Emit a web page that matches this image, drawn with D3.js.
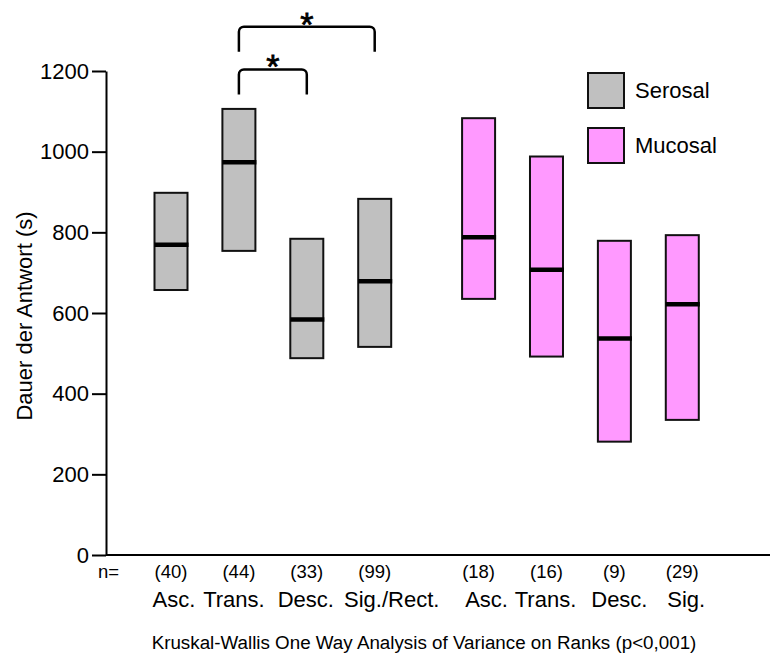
<!DOCTYPE html>
<html>
<head>
<meta charset="utf-8">
<script src="https://cdn.jsdelivr.net/npm/d3@7"></script>
<style>
  html, body { margin: 0; padding: 0; background: #fff; }
  svg { display: block; font-family: "Liberation Sans", Arial, Helvetica, sans-serif; }
</style>
</head>
<body>
<svg id="chart" width="770" height="657"></svg>
<script>
// Regions of the colon, one box per region and layer
const groups = ["Serosal", "Mucosal"];
const regions = [
  ["Asc.", "Trans.", "Desc.", "Sig./Rect."],
  ["Asc.", "Trans.", "Desc.", "Sig."]
];
const sampleSizes = [
  [40, 44, 33, 99],
  [18, 16, 9, 29]
];
// 25th percentile, median, 75th percentile of response duration (s)
const q1Values = [
  [657, 754, 488, 516],
  [635, 492, 281, 335]
];
const medianValues = [
  [769, 974, 584, 679],
  [788, 707, 537, 622]
];
const q3Values = [
  [898, 1106, 784, 883],
  [1083, 988, 779, 793]
];
const yTicks = [0, 200, 400, 600, 800, 1000, 1200];
// Pairwise significance: [from region, to region, bracket top, leg bottom] within Serosal
const comparisons = [
  [1, 2, 1204, 1142],
  [1, 3, 1310, 1248]
];
const footnote = "Kruskal-Wallis One Way Analysis of Variance on Ranks (p<0,001)";
const yTitle = "Dauer der Antwort (s)";

const fills = { Serosal: "#c0c0c0", Mucosal: "#ff99ff" };

// flatten to one record per box
const boxes = [];
groups.forEach((g, gi) => {
  regions[gi].forEach((r, ri) => {
    boxes.push({
      group: g, gi, ri, region: r,
      n: sampleSizes[gi][ri],
      q1: q1Values[gi][ri], med: medianValues[gi][ri], q3: q3Values[gi][ri],
      slot: ri + gi * (regions[0].length + 0.53)
    });
  });
});

const svg = d3.select("#chart");
const y = d3.scaleLinear().domain([0, 1200]).range([555, 71]);
const x = d3.scaleLinear().domain([0, 1]).range([171, 238.9]);
const boxW = 33;

// horizontal nudges so the region names sit without crowding
const labelNudge = [[3, -5, -1, 17], [8, -1, 5, 4]];

// y axis
const yAxis = d3.axisLeft(y).tickValues(yTicks).tickFormat(d3.format("d"))
  .tickSize(14).tickSizeOuter(0).tickPadding(3);
const yG = svg.append("g").attr("transform", "translate(106,0)").call(yAxis);
yG.selectAll("path, line").attr("stroke", "#000").attr("stroke-width", 2);
yG.selectAll("text").attr("font-size", 22).attr("fill", "#000")
  .attr("font-family", "'Liberation Sans', Arial, sans-serif");

// x baseline
svg.append("line")
  .attr("x1", 106).attr("x2", 770)
  .attr("y1", y(0)).attr("y2", y(0))
  .attr("stroke", "#000").attr("stroke-width", 2);

// y axis title
svg.append("text")
  .attr("transform", `translate(32,316) rotate(-90)`)
  .attr("text-anchor", "middle")
  .attr("font-size", 22)
  .text(yTitle);

// boxes
const bx = svg.append("g");
bx.selectAll("rect.box").data(boxes).join("rect")
  .attr("class", "box")
  .attr("x", d => x(d.slot) - boxW / 2)
  .attr("width", boxW)
  .attr("y", d => y(d.q3))
  .attr("height", d => y(d.q1) - y(d.q3))
  .attr("fill", d => fills[d.group])
  .attr("stroke", "#111").attr("stroke-width", 2);

bx.selectAll("line.median").data(boxes).join("line")
  .attr("class", "median")
  .attr("x1", d => x(d.slot) - boxW / 2)
  .attr("x2", d => x(d.slot) + boxW / 2 + 1)
  .attr("y1", d => y(d.med)).attr("y2", d => y(d.med))
  .attr("stroke", "#000").attr("stroke-width", 4.5);

// sample sizes
svg.append("text").attr("x", 98).attr("y", 578).attr("font-size", 18.5).text("n=");
svg.selectAll("text.n").data(boxes).join("text")
  .attr("class", "n")
  .attr("x", d => x(d.slot)).attr("y", 578)
  .attr("text-anchor", "middle").attr("font-size", 18.5)
  .text(d => `(${d.n})`);

// region names
svg.selectAll("text.region").data(boxes).join("text")
  .attr("class", "region")
  .attr("x", d => x(d.slot) + labelNudge[d.gi][d.ri]).attr("y", 607)
  .attr("text-anchor", "middle").attr("font-size", 22)
  .text(d => d.region);

// footnote
svg.append("text").attr("x", 424).attr("y", 649)
  .attr("text-anchor", "middle").attr("font-size", 18.8)
  .text(footnote);

// significance brackets
const r = 5;
comparisons.forEach(([a, b, top, leg]) => {
  const x0 = x(a), x1 = x(b), yt = y(top), yl = y(leg);
  const p = d3.path();
  p.moveTo(x0, yl);
  p.arcTo(x0, yt, x0 + r, yt, r);
  p.arcTo(x1, yt, x1, yt + r, r);
  p.lineTo(x1, yl);
  svg.append("path").attr("d", p.toString())
    .attr("fill", "none").attr("stroke", "#000").attr("stroke-width", 2.5);
  svg.append("text")
    .attr("x", (x0 + x1) / 2).attr("y", yt + 9)
    .attr("text-anchor", "middle")
    .attr("font-size", 34)
    .attr("stroke", "#000").attr("stroke-width", 0.8)
    .text("*");
});

// legend
const lg = svg.append("g").attr("transform", "translate(588,73)");
groups.forEach((g, i) => {
  lg.append("rect")
    .attr("x", 0).attr("y", i * 55)
    .attr("width", 36).attr("height", 35)
    .attr("fill", fills[g]).attr("stroke", "#111").attr("stroke-width", 2);
  lg.append("text")
    .attr("x", 47).attr("y", i * 55 + 25)
    .attr("font-size", 22)
    .text(g);
});
</script>
</body>
</html>
